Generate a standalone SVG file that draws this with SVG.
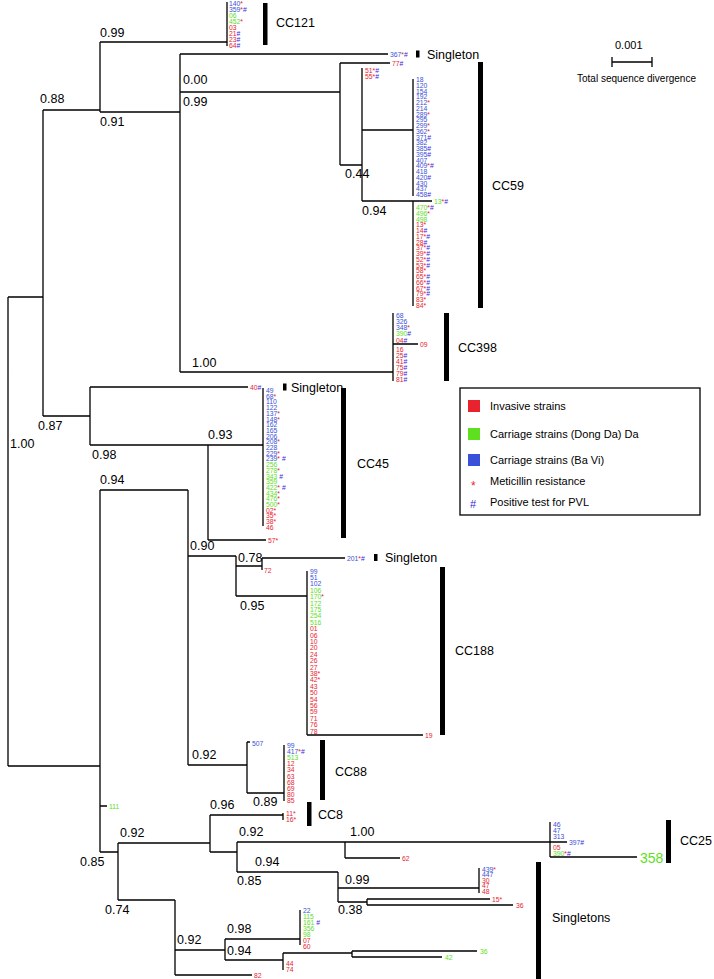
<svg xmlns="http://www.w3.org/2000/svg" width="714" height="979" viewBox="0 0 714 979">
<style>
.e{stroke:#000;stroke-width:1.3;fill:none}
.s{font-family:"Liberation Sans",Arial,sans-serif;font-size:12.5px;fill:#000}
.l{font-family:"Liberation Sans",Arial,sans-serif;font-size:6.8px}
.b{fill:#3a50d8}.g{fill:#5ee01e}.r{fill:#e8232e}.p{fill:#3a24d8}.a{fill:#e8232e}
.bar{fill:#000}
.cl{font-family:"Liberation Sans",Arial,sans-serif;font-size:12.5px;fill:#000}
.lg{font-family:"Liberation Sans",Arial,sans-serif;font-size:11px;fill:#000}
</style>
<rect width="714" height="979" fill="#fff"/>
<g id="connectors">
<path class="e" d="M8,297V766M8,297H43M43,110V416M43,110H100M100,42V112M100,42H227M227,2V46M100,112H180M180,54V372M180,54H388M180,92H340M340,63V165M340,63H390M340,165H362M362,68V201M362,130H413M362,201H432M413,79V196M413,201V306M180,372H393M393,313V381M393,344H418"/>
<path class="e" d="M43,416H90M90,387V445M90,387H248M90,445H263M263,388V526M208,445V540M208,540H266"/>
<path class="e" d="M8,766H100M100,490V852M100,490H188M188,490V765M188,556H236M236,556V596M236,566H262M262,558V570M262,558H345M236,596H307M307,571V735M307,735H423M188,765H247M247,742V793M247,742H250M247,793H284M284,745V801M100,806H107"/>
<path class="e" d="M100,852H118M118,843V900M118,843H210M210,815V852M210,815H283M283,813V820M210,852H237M237,842V872M237,842H550M345,842V858M345,858H400M550,822V857M550,842H567M550,857H637M237,872H338M338,872V902M338,888H479M479,868V893M338,902H367M367,899V905M367,899H490M367,905H513"/>
<path class="e" d="M118,900H175M175,900V975M175,950H225M225,939V960M225,939H300M300,910V945M225,960H283M283,953V970M283,953H352M352,951V957M352,951H477M352,957H442M175,975H252"/>
</g>
<g id="support">
<text class="s" x="100" y="37">0.99</text>
<text class="s" x="40" y="103">0.88</text>
<text class="s" x="183" y="84">0.00</text>
<text class="s" x="183" y="106">0.99</text>
<text class="s" x="100" y="126">0.91</text>
<text class="s" x="345" y="178">0.44</text>
<text class="s" x="362" y="215">0.94</text>
<text class="s" x="192" y="367">1.00</text>
<text class="s" x="38" y="430">0.87</text>
<text class="s" x="208" y="439">0.93</text>
<text class="s" x="92" y="459">0.98</text>
<text class="s" x="10" y="448">1.00</text>
<text class="s" x="100" y="484">0.94</text>
<text class="s" x="190" y="550">0.90</text>
<text class="s" x="238" y="562">0.78</text>
<text class="s" x="240" y="610">0.95</text>
<text class="s" x="192" y="759">0.92</text>
<text class="s" x="253" y="806">0.89</text>
<text class="s" x="210" y="809">0.96</text>
<text class="s" x="120" y="837">0.92</text>
<text class="s" x="239" y="836">0.92</text>
<text class="s" x="350" y="836">1.00</text>
<text class="s" x="80" y="866">0.85</text>
<text class="s" x="237" y="885">0.85</text>
<text class="s" x="255" y="866">0.94</text>
<text class="s" x="345" y="884">0.99</text>
<text class="s" x="105" y="914">0.74</text>
<text class="s" x="338" y="914">0.38</text>
<text class="s" x="227" y="933">0.98</text>
<text class="s" x="227" y="955">0.94</text>
<text class="s" x="177" y="944">0.92</text>
</g>
<g id="cc121"><text class="l" x="229"><tspan class="b" y="5.5">140</tspan><tspan class="a">*</tspan><tspan class="b" x="229" y="11.5">359</tspan><tspan class="a">*</tspan><tspan class="p">#</tspan><tspan class="g" x="229" y="17.5">06</tspan><tspan class="g" x="229" y="23.5">452</tspan><tspan class="a">*</tspan><tspan class="r" x="229" y="29.5">03</tspan><tspan class="r" x="229" y="35.5">21</tspan><tspan class="p">#</tspan><tspan class="r" x="229" y="41.5">23</tspan><tspan class="p">#</tspan><tspan class="r" x="229" y="47.5">64</tspan><tspan class="p">#</tspan></text>
<rect class="bar" x="263" y="3" width="4.5" height="42"/><text class="cl" x="276" y="27">CC121</text></g>
<g id="singleton367"><text class="l" x="390" y="56.5"><tspan class="b">367</tspan><tspan class="a">*</tspan><tspan class="p">#</tspan></text><rect class="bar" x="416" y="50.5" width="3.5" height="7"/><text class="cl" x="427" y="59">Singleton</text></g>
<g id="cc59">
<text class="l" x="392" y="65.5"><tspan class="r">77</tspan><tspan class="p">#</tspan></text>
<text class="l" x="365"><tspan class="r" y="72.5">51</tspan><tspan class="a">*</tspan><tspan class="p">#</tspan><tspan class="r" x="365" y="78.5">55</tspan><tspan class="a">*</tspan><tspan class="p">#</tspan></text>
<text class="l" x="416">
<tspan class="b" x="416" y="82">18</tspan><tspan class="b" x="416" y="87.75">120</tspan><tspan class="b" x="416" y="93.5">154</tspan><tspan class="b" x="416" y="99.25">192</tspan><tspan class="b" x="416" y="105">212</tspan><tspan class="a">*</tspan><tspan class="b" x="416" y="110.75">214</tspan><tspan class="b" x="416" y="116.5">289</tspan><tspan class="a">*</tspan><tspan class="b" x="416" y="122.25">295</tspan><tspan class="b" x="416" y="128">299</tspan><tspan class="a">*</tspan><tspan class="b" x="416" y="133.75">362</tspan><tspan class="a">*</tspan><tspan class="b" x="416" y="139.5">371</tspan><tspan class="p">#</tspan><tspan class="b" x="416" y="145.25">382</tspan><tspan class="b" x="416" y="151">385</tspan><tspan class="p">#</tspan><tspan class="b" x="416" y="156.75">395</tspan><tspan class="p">#</tspan><tspan class="b" x="416" y="162.5">407</tspan><tspan class="b" x="416" y="168.25">409</tspan><tspan class="a">*</tspan><tspan class="p">#</tspan><tspan class="b" x="416" y="174">418</tspan><tspan class="b" x="416" y="179.75">420</tspan><tspan class="p">#</tspan><tspan class="b" x="416" y="185.5">430</tspan><tspan class="b" x="416" y="191.25">437</tspan><tspan class="b" x="416" y="197">458</tspan><tspan class="p">#</tspan>
<tspan class="g" x="416" y="210">470</tspan><tspan class="a">*</tspan><tspan class="p">#</tspan><tspan class="g" x="416" y="215.75">496</tspan><tspan class="a">*</tspan><tspan class="g" x="416" y="221.5">498</tspan>
<tspan class="r" x="416" y="227.25">13</tspan><tspan class="a">*</tspan><tspan class="r" x="416" y="233">14</tspan><tspan class="p">#</tspan><tspan class="r" x="416" y="238.75">17</tspan><tspan class="a">*</tspan><tspan class="p">#</tspan><tspan class="r" x="416" y="244.5">28</tspan><tspan class="p">#</tspan><tspan class="r" x="416" y="250.25">37</tspan><tspan class="a">*</tspan><tspan class="p">#</tspan><tspan class="r" x="416" y="256">39</tspan><tspan class="a">*</tspan><tspan class="p">#</tspan><tspan class="r" x="416" y="261.75">52</tspan><tspan class="a">*</tspan><tspan class="p">#</tspan><tspan class="r" x="416" y="267.5">53</tspan><tspan class="a">*</tspan><tspan class="p">#</tspan><tspan class="r" x="416" y="273.25">58</tspan><tspan class="a">*</tspan><tspan class="r" x="416" y="279">65</tspan><tspan class="a">*</tspan><tspan class="p">#</tspan><tspan class="r" x="416" y="284.75">66</tspan><tspan class="a">*</tspan><tspan class="p">#</tspan><tspan class="r" x="416" y="290.5">67</tspan><tspan class="a">*</tspan><tspan class="p">#</tspan><tspan class="r" x="416" y="296.25">79</tspan><tspan class="a">*</tspan><tspan class="p">#</tspan><tspan class="r" x="416" y="302">83</tspan><tspan class="a">*</tspan><tspan class="r" x="416" y="307.75">84</tspan><tspan class="a">*</tspan>
</text>
<text class="l" x="434" y="203.5"><tspan class="g">13</tspan><tspan class="a">*</tspan><tspan class="p">#</tspan></text>
<rect class="bar" x="478" y="62" width="5" height="246"/><text class="cl" x="492" y="190">CC59</text></g>
<g id="cc398"><text class="l" x="396"><tspan class="b" x="396" y="317.5">68</tspan><tspan class="b" x="396" y="323.5">326</tspan><tspan class="b" x="396" y="329.5">348</tspan><tspan class="a">*</tspan><tspan class="g" x="396" y="335.5">390</tspan><tspan class="p">#</tspan><tspan class="r" x="396" y="343">04</tspan><tspan class="p">#</tspan><tspan class="r" x="396" y="352">16</tspan><tspan class="r" x="396" y="358">25</tspan><tspan class="p">#</tspan><tspan class="r" x="396" y="364">41</tspan><tspan class="p">#</tspan><tspan class="r" x="396" y="370">75</tspan><tspan class="p">#</tspan><tspan class="r" x="396" y="376">79</tspan><tspan class="p">#</tspan><tspan class="r" x="396" y="382">81</tspan><tspan class="p">#</tspan></text>
<text class="l r" x="420" y="346.5">09</text>
<rect class="bar" x="444" y="313" width="5" height="68"/><text class="cl" x="458" y="352">CC398</text></g>
<g id="singleton40"><text class="l" x="250" y="389.5"><tspan class="r">40</tspan><tspan class="p">#</tspan></text><rect class="bar" x="283" y="383.5" width="3.5" height="7"/><text class="cl" x="291" y="392">Singleton</text></g>
<g id="cc45"><text class="l" x="266">
<tspan class="b" x="266" y="393">49</tspan><tspan class="b" x="266" y="398.7">68</tspan><tspan class="a">*</tspan><tspan class="b" x="266" y="404.4">110</tspan><tspan class="b" x="266" y="410.1">122</tspan><tspan class="b" x="266" y="415.8">137</tspan><tspan class="a">*</tspan><tspan class="b" x="266" y="421.5">148</tspan><tspan class="a">*</tspan><tspan class="b" x="266" y="427.2">162</tspan><tspan class="b" x="266" y="432.9">165</tspan><tspan class="b" x="266" y="438.6">206</tspan><tspan class="b" x="266" y="444.3">208</tspan><tspan class="a">*</tspan><tspan class="b" x="266" y="450">228</tspan><tspan class="b" x="266" y="455.7">229</tspan><tspan class="a">*</tspan><tspan class="b" x="266" y="461.4">239</tspan><tspan class="a">*</tspan><tspan class="p"> #</tspan>
<tspan class="g" x="266" y="467.1">256</tspan><tspan class="g" x="266" y="472.8">278</tspan><tspan class="a">*</tspan><tspan class="g" x="266" y="478.5">343</tspan><tspan class="p">  #</tspan><tspan class="g" x="266" y="484.2">359</tspan><tspan class="g" x="266" y="489.9">422</tspan><tspan class="a">*</tspan><tspan class="p"> #</tspan><tspan class="g" x="266" y="495.6">434</tspan><tspan class="a">*</tspan><tspan class="g" x="266" y="501.3">476</tspan><tspan class="a">*</tspan><tspan class="g" x="266" y="507">500</tspan><tspan class="a">*</tspan>
<tspan class="r" x="266" y="512.7">02</tspan><tspan class="a">*</tspan><tspan class="r" x="266" y="518.4">35</tspan><tspan class="a">*</tspan><tspan class="r" x="266" y="524.1">38</tspan><tspan class="a">*</tspan><tspan class="r" x="266" y="529.8">46</tspan></text>
<text class="l" x="268" y="542.5"><tspan class="r">57</tspan><tspan class="a">*</tspan></text>
<rect class="bar" x="341" y="388" width="5" height="150"/><text class="cl" x="357" y="468">CC45</text></g>
<g id="singleton201"><text class="l" x="347" y="560.5"><tspan class="b">201</tspan><tspan class="a">*</tspan><tspan class="p">#</tspan></text><text class="l r" x="264" y="572.5">72</text><rect class="bar" x="374" y="554" width="3.5" height="7"/><text class="cl" x="385" y="562">Singleton</text></g>
<g id="cc188"><text class="l" x="310">
<tspan class="b" x="310" y="573.5">99</tspan><tspan class="b" x="310" y="579.9">51</tspan><tspan class="b" x="310" y="586.3">102</tspan><tspan class="g" x="310" y="592.7">106</tspan><tspan class="g" x="310" y="599.1">170</tspan><tspan class="a">*</tspan><tspan class="g" x="310" y="605.5">172</tspan><tspan class="g" x="310" y="611.9">175</tspan><tspan class="g" x="310" y="618.3">254</tspan><tspan class="g" x="310" y="624.7">516</tspan><tspan class="r" x="310" y="631.1">01</tspan><tspan class="r" x="310" y="637.5">06</tspan><tspan class="r" x="310" y="643.9">10</tspan><tspan class="r" x="310" y="650.3">20</tspan><tspan class="r" x="310" y="656.7">24</tspan><tspan class="r" x="310" y="663.1">26</tspan><tspan class="r" x="310" y="669.5">27</tspan><tspan class="r" x="310" y="675.9">38</tspan><tspan class="a">*</tspan><tspan class="r" x="310" y="682.3">42</tspan><tspan class="a">*</tspan><tspan class="r" x="310" y="688.7">43</tspan><tspan class="r" x="310" y="695.1">50</tspan><tspan class="r" x="310" y="701.5">54</tspan><tspan class="r" x="310" y="707.9">56</tspan><tspan class="r" x="310" y="714.3">59</tspan><tspan class="r" x="310" y="720.7">71</tspan><tspan class="r" x="310" y="727.1">76</tspan><tspan class="r" x="310" y="733.5">78</tspan></text>
<text class="l r" x="425" y="737.5">19</text>
<rect class="bar" x="440" y="567" width="5" height="168"/><text class="cl" x="455" y="655">CC188</text></g>
<g id="cc88"><text class="l b" x="252" y="745.5">507</text><text class="l" x="287">
<tspan class="b" x="287" y="747.5">99</tspan><tspan class="b" x="287" y="753.7">417</tspan><tspan class="a">*</tspan><tspan class="p">#</tspan><tspan class="g" x="287" y="759.9">513</tspan><tspan class="r" x="287" y="766.1">12</tspan><tspan class="r" x="287" y="772.3">34</tspan><tspan class="r" x="287" y="778.5">63</tspan><tspan class="r" x="287" y="784.7">68</tspan><tspan class="r" x="287" y="790.9">69</tspan><tspan class="r" x="287" y="797.1">80</tspan><tspan class="r" x="287" y="803.3">85</tspan></text>
<rect class="bar" x="320" y="740" width="5" height="60"/><text class="cl" x="335" y="776">CC88</text></g>
<g id="cc8"><text class="l" x="286"><tspan class="r" x="286" y="815.5">11</tspan><tspan class="a">*</tspan><tspan class="r" x="286" y="822">16</tspan><tspan class="a">*</tspan></text><rect class="bar" x="307" y="802" width="4.5" height="24"/><text class="cl" x="318" y="819">CC8</text>
<text class="l g" x="109" y="808.5">111</text></g>
<g id="cc25"><text class="l" x="553"><tspan class="b" x="553" y="826.5">46</tspan><tspan class="b" x="553" y="832.5">47</tspan><tspan class="b" x="553" y="838.5">313</tspan><tspan class="r" x="553" y="850">05</tspan><tspan class="g" x="553" y="856">390</tspan><tspan class="a">*</tspan><tspan class="p">#</tspan></text>
<text class="l" x="569" y="844.5"><tspan class="b">397</tspan><tspan class="p">#</tspan></text>
<text x="640" y="863" font-family="Liberation Sans,Arial,sans-serif" font-size="14" fill="#5ee01e">358</text>
<text class="l r" x="402" y="860.5">62</text>
<rect class="bar" x="666" y="820" width="5" height="43"/><text class="cl" x="680" y="845">CC25</text></g>
<g id="singletons"><text class="l" x="482"><tspan class="b" x="482" y="871.5">439</tspan><tspan class="a">*</tspan><tspan class="b" x="482" y="877">447</tspan><tspan class="r" x="482" y="882.5">30</tspan><tspan class="r" x="482" y="888">47</tspan><tspan class="r" x="482" y="893.5">48</tspan></text>
<text class="l" x="492" y="901.5"><tspan class="r">15</tspan><tspan class="a">*</tspan></text><text class="l r" x="516" y="907.5">36</text>
<text class="l" x="303"><tspan class="b" x="303" y="912.5">22</tspan><tspan class="g" x="303" y="918.5">115</tspan><tspan class="g" x="303" y="924.5">161</tspan><tspan class="p"> #</tspan><tspan class="g" x="303" y="930.5">356</tspan><tspan class="g" x="303" y="936.5">98</tspan><tspan class="r" x="303" y="942.5">07</tspan><tspan class="r" x="303" y="948.5">60</tspan></text>
<text class="l" x="286"><tspan class="r" x="286" y="965.5">44</tspan><tspan class="r" x="286" y="972">74</tspan></text>
<text class="l g" x="480" y="953.5">36</text><text class="l g" x="445" y="959.5">42</text><text class="l r" x="254" y="977.5">82</text>
<rect class="bar" x="536" y="862" width="5" height="117"/><text class="cl" x="552" y="922">Singletons</text></g>
<g id="scale"><text x="615" y="49" font-family="Liberation Sans,Arial,sans-serif" font-size="11">0.001</text><path class="e" d="M612,62H652M612,57V67M652,57V67"/><text x="577" y="82" font-family="Liberation Sans,Arial,sans-serif" font-size="10">Total sequence divergence</text></g>
<g id="legend"><rect x="460" y="388" width="240" height="127" fill="#fff" stroke="#000" stroke-width="1.3"/>
<rect x="468" y="400" width="12" height="12" fill="#e8232e"/><text class="lg" x="490" y="410">Invasive strains</text>
<rect x="468" y="428" width="12" height="12" fill="#5ee01e"/><text class="lg" x="490" y="438">Carriage strains (Dong Da) Da</text>
<rect x="468" y="454" width="12" height="12" fill="#3a50d8"/><text class="lg" x="490" y="464">Carriage strains (Ba Vi)</text>
<text x="471" y="490" font-family="Liberation Sans,Arial,sans-serif" font-size="12" fill="#e8232e">*</text><text class="lg" x="490" y="485">Meticillin resistance</text>
<text x="470" y="508" font-family="Liberation Sans,Arial,sans-serif" font-size="11" fill="#3a24d8">#</text><text class="lg" x="490" y="506">Positive test for PVL</text></g>
</svg>
